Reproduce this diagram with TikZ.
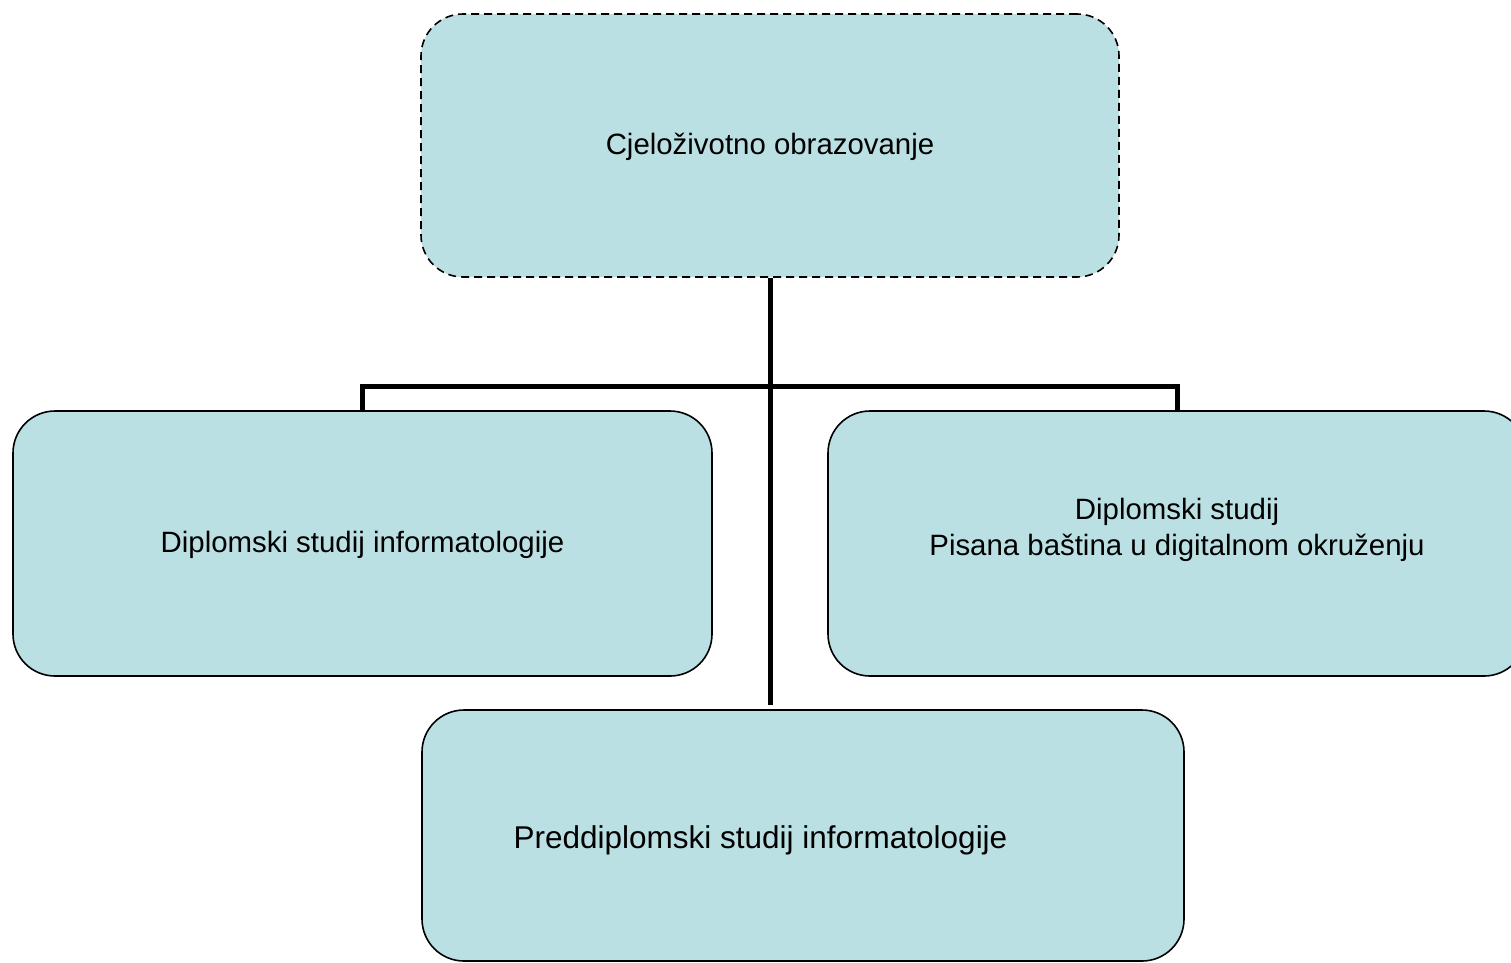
\documentclass[tikz,border=0pt]{standalone}
\usepackage{fontspec}
\setmainfont{Liberation Sans}
\definecolor{boxfill}{HTML}{BBE0E3}
\begin{document}
\begin{tikzpicture}[x=1pt,y=-1pt,
  box/.style={draw=black, line width=1.6pt, fill=boxfill, rounded corners=42pt, inner sep=0pt, align=center, font=\fontsize{29.4}{36}\selectfont},
  dashbox/.style={box, dash pattern=on 8pt off 5pt},
  conn/.style={draw=black, line width=5pt},
  txt/.style={inner sep=0pt, align=center, font=\fontsize{29.4}{36}\selectfont}]
\useasboundingbox (0,0) rectangle (1511,962);
\node[dashbox, minimum width=698pt, minimum height=263pt,
  label={[txt, yshift=-1.5pt]center:Cjeloživotno obrazovanje}] (top) at (770,145.5) {};
\node[box, minimum width=699pt, minimum height=265pt,
  label={[txt, yshift=-1.5pt]center:Diplomski studij informatologije}] (left) at (362.5,543.5) {};
\node[box, minimum width=698pt, minimum height=265pt,
  label={[txt, yshift=14pt]center:{Diplomski studij\\Pisana baština u digitalnom okruženju}}] (right) at (1177,543.5) {};
\node[box, minimum width=762pt, minimum height=251pt] (bottom) at (803,835.5) {};
\node[txt, anchor=base, font=\fontsize{31.5}{38}\selectfont] (bottomtext) at (760.5,848) {Preddiplomski studij informatologije};
\coordinate (bus) at (770,386);
\coordinate (stemend) at (770,705);
\draw[conn] (left.north) |- (bus) -| (right.north);
\draw[conn] (top.south) -- (stemend);
\end{tikzpicture}
\end{document}
